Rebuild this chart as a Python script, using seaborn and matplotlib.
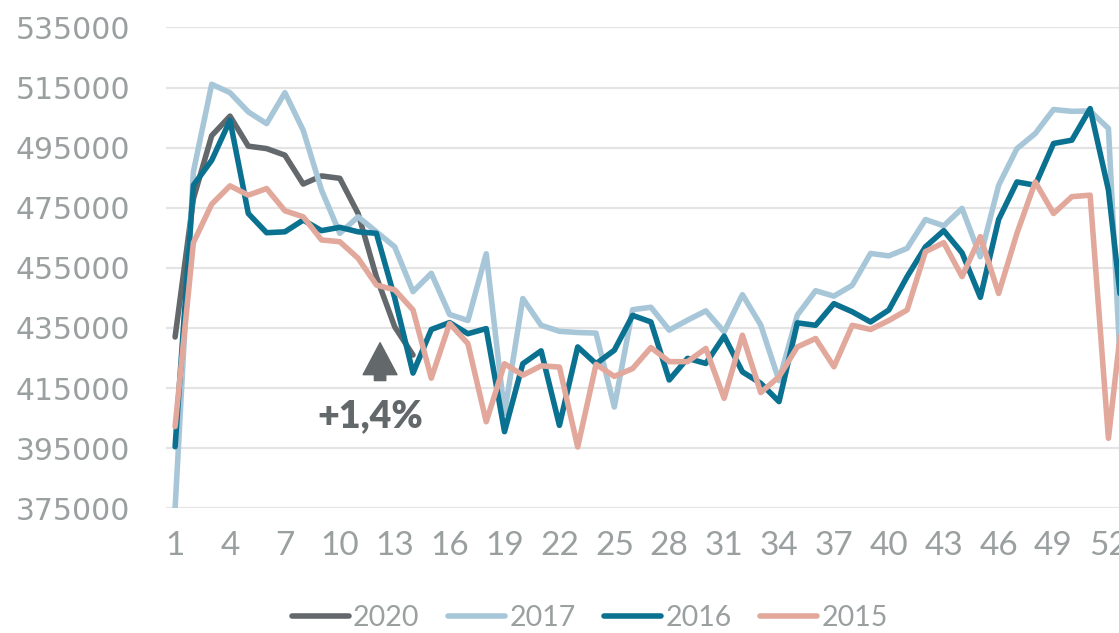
import numpy as np
import pandas as pd
import matplotlib
matplotlib.use('Agg')
import matplotlib.pyplot as plt
from matplotlib.lines import Line2D
from matplotlib import font_manager
import seaborn as sns

# weekly values
weeks = list(range(1, 54))
years = ['2020', '2017', '2016', '2015']
colors = ['#62686b', '#a7c7d9', '#0b7191', '#e2a89c']

y2020 = [432000, 478000, 499000, 505500, 495500, 494700, 492500, 482900, 485600, 484800,
         473100, 452000, 435400, 426000]

y2017 = [375000, 487000, 516100, 513300, 506900, 503000, 513300, 500800, 480900, 466500,
         472000, 467000, 462000, 447100, 453200, 439500, 437500, 459700, 406600, 444800,
         435900, 433900, 433500, 433300, 408700, 441100, 441900, 434300, 437600, 440700,
         433700, 446100, 436000, 417500, 439300, 447400, 445600, 449200, 459800, 459000,
         461500, 471100, 469000, 474800, 458700, 482500, 494700, 499700, 507700, 507100,
         507200, 501400, 380000]

y2016 = [395500, 482500, 490800, 504100, 473100, 466700, 467000, 470900, 467400, 468500,
         467000, 466500, 445000, 420000, 434500, 436800, 433100, 434800, 400500, 423100,
         427400, 402600, 428700, 423100, 427600, 439200, 437000, 417700, 424900, 423200,
         432300, 420400, 416600, 410500, 436700, 435900, 443100, 440400, 437000, 441000,
         452100, 462000, 467400, 460000, 445200, 471100, 483600, 482500, 496400, 497500,
         508000, 480900, 426300]

y2015 = [402200, 463400, 476200, 482300, 479200, 481400, 474000, 472000, 464300, 463700,
         458200, 449300, 447700, 441000, 418300, 436500, 429800, 403800, 423100, 419300,
         422400, 422000, 395400, 422900, 418900, 421500, 428500, 423800, 423800, 428200,
         411600, 432600, 413500, 418800, 428700, 431500, 422100, 435900, 434500, 437500,
         441000, 460400, 463400, 452100, 465400, 446500, 466500, 483600, 473100, 478700,
         479200, 398300, 452000]

frames = []
for year, vals in zip(years, [y2020, y2017, y2016, y2015]):
    frames.append(pd.DataFrame({'week': weeks[:len(vals)], 'value': vals, 'year': year}))
df = pd.concat(frames, ignore_index=True)

sns.set_theme(style='white')

names = {f.name for f in font_manager.fontManager.ttflist}
narrow = 'Liberation Sans Narrow' if 'Liberation Sans Narrow' in names else 'Lato'
grey_txt = '#9a9fa0'
dark = '#63686a'

fig = plt.figure(figsize=(11.19, 6.33), dpi=100)
# plot area runs past the right edge, like the cropped original
ax = fig.add_axes([0.1483, 0.1970, 0.8668, 0.7596])

sns.lineplot(data=df, x='week', y='value', hue='year', hue_order=years,
             palette=dict(zip(years, colors)), linewidth=4.0, sort=False,
             legend=False, ax=ax)

ax.set_xlim(0.5, 53.5)
ax.set_ylim(375000, 535000)
ax.set_xticks(range(1, 54, 3))
ax.set_yticks(range(375000, 535001, 20000))
ax.set_xlabel('')
ax.set_ylabel('')
ax.yaxis.grid(True, color='#e4e4e4', linewidth=1.6)
ax.xaxis.grid(False)
ax.set_axisbelow(True)
for s in ax.spines.values():
    s.set_visible(False)

ax.tick_params(axis='both', length=0)
ax.tick_params(axis='y', pad=26, labelcolor=grey_txt)
ax.tick_params(axis='x', pad=16, labelcolor=grey_txt)
for lab in ax.get_yticklabels():
    lab.set_fontfamily('DejaVu Sans')
    lab.set_fontsize(21.5)
for lab in ax.get_xticklabels():
    lab.set_fontfamily(narrow)
    lab.set_fontsize(24)

# annotation arrow and label
ax.annotate('', xy=(12.2, 430100), xytext=(12.2, 417500),
            arrowprops=dict(arrowstyle='simple,head_length=1.15,head_width=1.22,tail_width=0.41',
                            mutation_scale=20, color=dark, shrinkA=0, shrinkB=0))
ax.text(11.66, 405500, '+1,4%', ha='center', va='center', fontsize=27,
        fontweight='heavy', family='Lato', color=dark)

handles = [Line2D([0], [0], color=c, linewidth=4.0, solid_capstyle='round') for c in colors]
leg = fig.legend(handles, years, loc='center', bbox_to_anchor=(0.527, 0.024), ncol=4,
                 frameon=False, handlelength=2.0, handletextpad=0.15, columnspacing=1.0,
                 prop={'family': narrow, 'size': 20.5})
for t in leg.get_texts():
    t.set_color(grey_txt)

fig.savefig('out.png', dpi=100)
